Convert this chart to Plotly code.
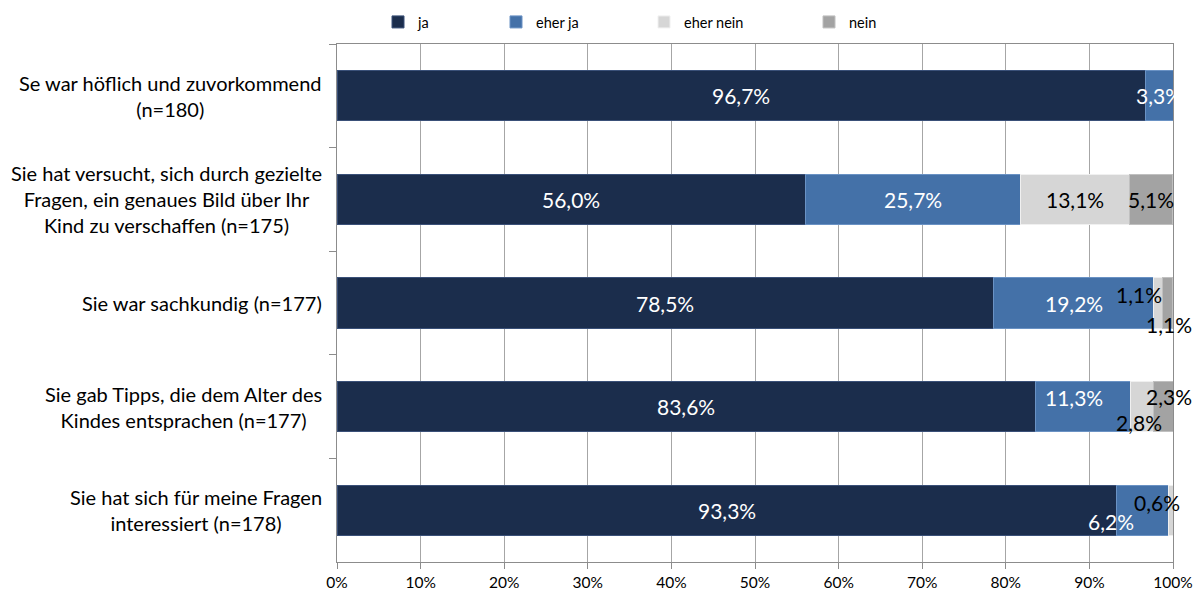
import plotly.graph_objects as go

categories = [
    "Se war höflich und zuvorkommend<br>(n=180)",
    "Sie hat versucht, sich durch gezielte<br>Fragen, ein genaues Bild über Ihr<br>Kind zu verschaffen (n=175)",
    "Sie war sachkundig (n=177)",
    "Sie gab Tipps, die dem Alter des<br>Kindes entsprachen (n=177)",
    "Sie hat sich für meine Fragen<br>interessiert (n=178)",
]
series_names = ["ja", "eher ja", "eher nein", "nein"]
ja = [96.7, 56.0, 78.5, 83.6, 93.3]
eher_ja = [3.3, 25.7, 19.2, 11.3, 6.2]
eher_nein = [0.0, 13.1, 1.1, 2.8, 0.6]
nein = [0.0, 5.1, 1.1, 2.3, 0.0]
tick_values = [0, 10, 20, 30, 40, 50, 60, 70, 80, 90, 100]
tick_labels = ["0%", "10%", "20%", "30%", "40%", "50%", "60%", "70%", "80%", "90%", "100%"]

values = [ja, eher_ja, eher_nein, nein]
colors = ["#1b2d4c", "#4471a8", "#d6d6d6", "#a3a3a3"]
line_colors = ["#3a5078", "#6a92c4", "#f0f0f0", "#c0c0c0"]
label_colors = ["white", "white", "black", "black"]
legend_ids = ["legend", "legend2", "legend3", "legend4"]
legend_px = [378, 496, 644, 809]  # left edge of legend boxes in pixels

# manual label nudges (pixels) for crowded small segments: (row, series) -> (dx, dy_down)
label_nudge = {
    (2, 2): (-19, -9), (2, 3): (1, 21),
    (3, 1): (-9, -9), (3, 2): (-3, 16), (3, 3): (6, -10),
    (4, 1): (-32, 11), (4, 2): (-14, -8),
}

W, H = 1202, 597
ML, MR, MT, MB = 337, 29, 44, 35
pw = W - ML - MR
ph = H - MT - MB
FONT = "Lato"

fig = go.Figure()
for s, name in enumerate(series_names):
    fig.add_trace(go.Bar(
        y=categories, x=values[s], orientation="h", name=name,
        marker=dict(color=colors[s], line=dict(color=line_colors[s], width=1)),
        legend=legend_ids[s], hoverinfo="x+name",
    ))

annotations = []
for r, cat in enumerate(categories):
    start = 0.0
    for s in range(len(series_names)):
        v = values[s][r]
        if v > 0:
            dx, dy = label_nudge.get((r, s), (0, 0))
            annotations.append(dict(
                x=start + v / 2, y=cat, xref="x", yref="y",
                text=f"{v:.1f}".replace(".", ",") + "%",
                showarrow=False, xshift=dx, yshift=-dy,
                font=dict(family=FONT, size=21, color=label_colors[s]),
            ))
        start += v
    annotations.append(dict(
        x=0, y=cat, xref="paper", yref="y", xanchor="right", align="center",
        text=cat, showarrow=False, xshift=-13,
        font=dict(family=FONT, size=20, color="black"),
    ))

layout_legends = {}
for s, lid in enumerate(legend_ids):
    layout_legends[lid] = dict(
        x=(legend_px[s] - ML) / pw, y=(H - MB - 22) / ph,
        xanchor="left", yanchor="middle", orientation="h",
        font=dict(family=FONT, size=14.5, color="black"),
        bgcolor="rgba(0,0,0,0)", borderwidth=0,
    )

fig.update_layout(
    width=W, height=H,
    margin=dict(l=ML, r=MR, t=MT, b=MB, autoexpand=False),
    barmode="stack", bargap=0.515,
    plot_bgcolor="white", paper_bgcolor="white",
    font=dict(family=FONT, size=16, color="black"),
    annotations=annotations,
    showlegend=True,
    **layout_legends,
)
fig.update_xaxes(
    range=[0, 100], tickvals=tick_values, ticktext=tick_labels, tickmode="array",
    showgrid=True, gridcolor="#a6a6a6", gridwidth=1,
    showline=True, linecolor="#8c8c8c", linewidth=1, mirror=True,
    ticks="outside", ticklen=6, tickcolor="#8c8c8c",
    zeroline=False, tickfont=dict(family=FONT, size=15.5, color="black"),
)
fig.update_yaxes(
    type="category", autorange="reversed", showticklabels=False,
    showgrid=False, showline=True, linecolor="#8c8c8c", linewidth=1, mirror=True,
    ticks="outside", tickson="boundaries", ticklen=7, tickcolor="#8c8c8c",
    zeroline=False,
)

fig.write_html("out.html")
